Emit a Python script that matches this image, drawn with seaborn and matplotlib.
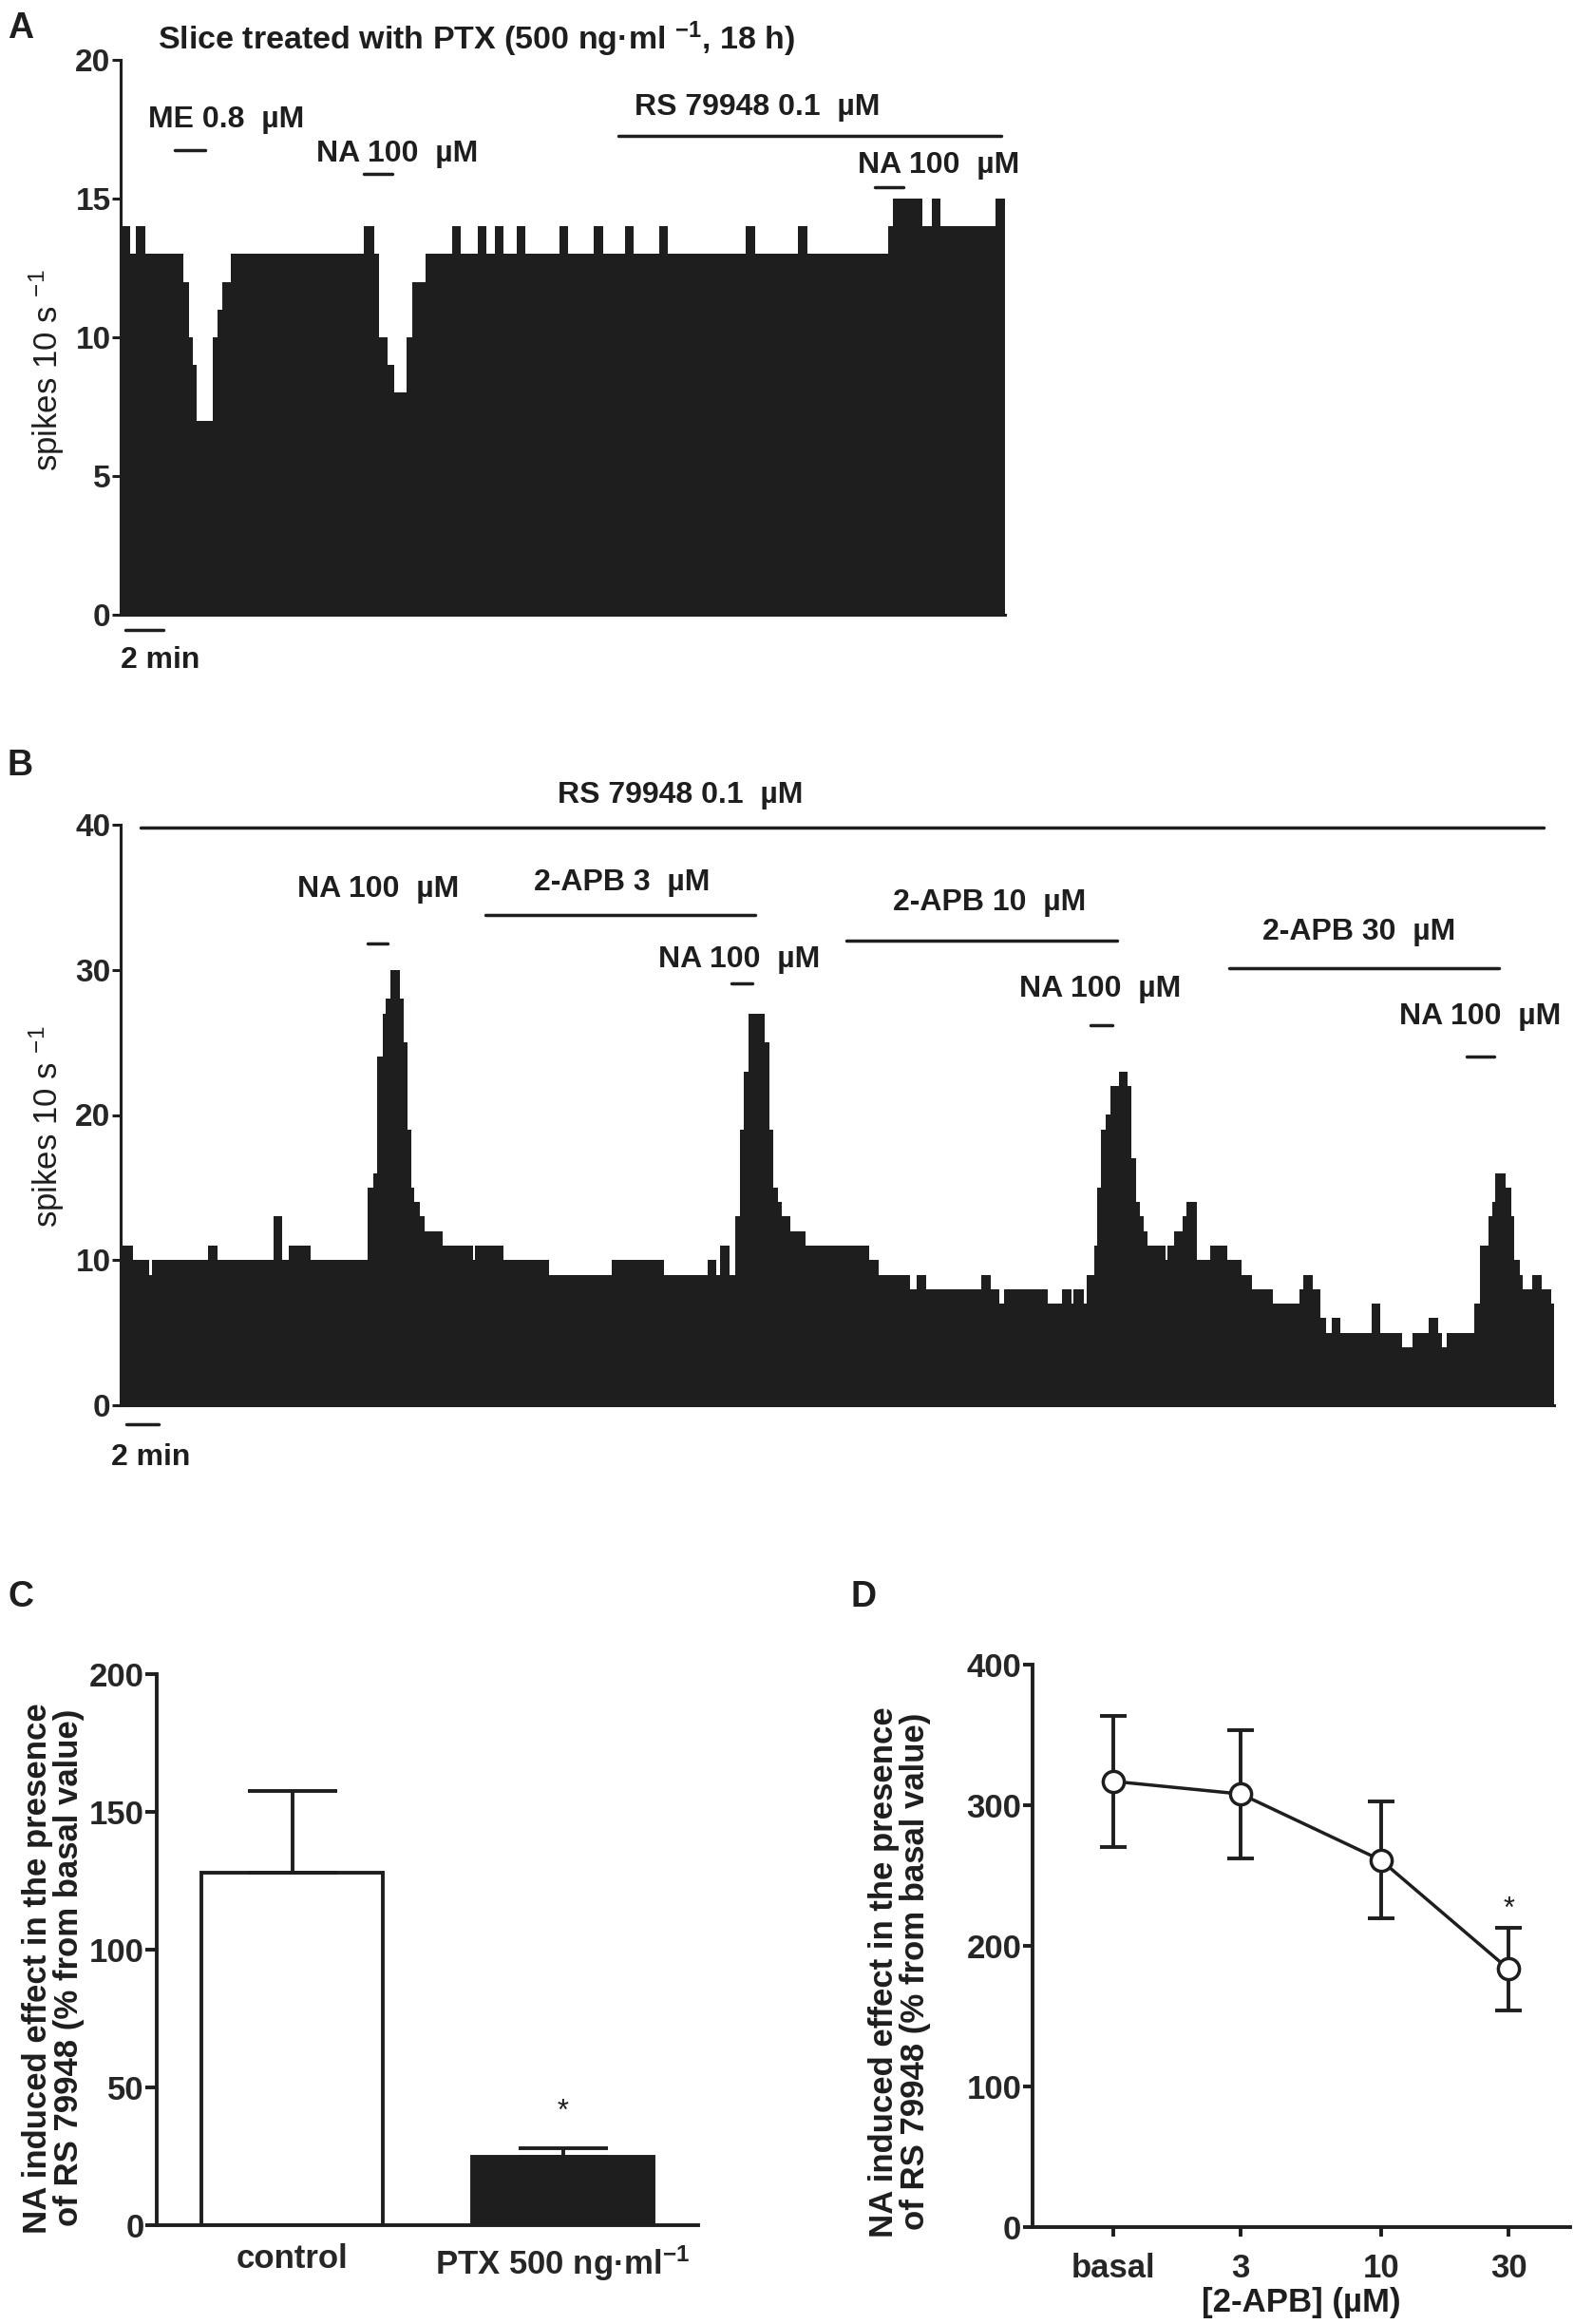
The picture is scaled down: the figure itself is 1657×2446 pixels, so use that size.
import numpy as np
import matplotlib
matplotlib.use("Agg")
import matplotlib.pyplot as plt
import seaborn as sns

# ======== DATA ========
# panel A: firing rate (spikes / 10 s), run-length steps (min)
a_start = [0.00, 0.53, 0.82, 1.32, 3.35, 3.63, 3.87, 4.08, 4.90, 5.17, 5.45, 5.90,
           13.00, 13.55, 13.82, 14.27, 14.63, 15.27, 15.58, 16.28, 17.73, 18.18,
           19.10, 19.55, 20.00, 20.47, 21.15, 21.60, 23.47, 23.92, 25.28, 25.78,
           26.93, 27.42, 28.78, 29.23, 33.42, 33.88, 36.20, 36.67, 41.03, 41.28,
           42.85, 43.33, 43.80, 46.73]
a_rate = [14, 13, 14, 13, 12, 10, 9, 7, 10, 11, 12, 13,
          14, 13, 10, 9, 8, 10, 12, 13, 14, 13,
          14, 13, 14, 13, 14, 13, 14, 13, 14, 13,
          14, 13, 14, 13, 14, 13, 14, 13, 14, 15,
          14, 15, 14, 15]
a_end = 47.25

a_drug = ["ME 0.8  µM", "NA 100  µM", "RS 79948 0.1  µM", "NA 100  µM"]
a_drug_on = [2.9, 12.97, 26.6, 40.3]
a_drug_off = [4.53, 14.5, 47.07, 41.8]

# panel B
b_start = [0.00, 0.77, 1.77, 1.94, 5.35, 5.98, 9.38, 9.94, 10.35, 11.67,
           15.20, 15.52, 15.77, 16.08, 16.29, 16.60, 17.13, 17.40, 17.60, 17.85,
           18.06, 18.38, 18.65, 19.80, 21.67, 21.77, 23.54, 26.30, 30.15, 33.38,
           36.09, 36.61, 36.82, 37.40, 37.76, 38.03, 38.28, 38.55, 39.57, 39.84,
           40.11, 40.36, 40.63, 41.15, 42.07, 45.98, 46.57, 48.48, 48.90, 49.48,
           52.86, 53.44, 54.00, 54.27, 56.94, 57.85, 58.42, 58.56, 59.15, 59.32,
           59.79, 60.00, 60.25, 60.52, 60.80, 61.31, 61.85, 62.11, 62.36, 62.59,
           62.85, 63.10, 64.17, 64.32, 64.74, 65.23, 65.48, 66.12, 66.96, 68.01,
           68.86, 69.53, 70.76, 72.44, 72.66, 73.25, 73.71, 74.03, 74.39, 74.93,
           76.83, 77.40, 78.73, 79.36, 80.36, 80.93, 81.20, 81.47, 83.16, 83.52,
           84.01, 84.26, 84.47, 85.06, 85.42, 85.63, 85.95, 86.16, 86.69, 87.32,
           87.89]
b_rate = [11, 10, 9, 10, 11, 10, 13, 10, 11, 10,
          15, 16, 24, 27, 28, 30, 28, 25, 19, 15,
          14, 13, 12, 11, 10, 11, 10, 9, 10, 9,
          10, 9, 11, 9, 13, 19, 23, 27, 25, 19,
          15, 14, 13, 12, 11, 10, 9, 8, 9, 8,
          9, 8, 7, 8, 7, 8, 7, 8, 7, 9,
          11, 15, 19, 20, 22, 23, 22, 17, 14, 13,
          12, 11, 10, 11, 12, 13, 14, 10, 11, 10,
          9, 8, 7, 8, 9, 8, 6, 5, 6, 5,
          7, 5, 4, 5, 6, 5, 4, 5, 7, 11,
          13, 14, 16, 15, 13, 10, 9, 8, 9, 8,
          7]
b_end = 88.06

b_drug = ["RS 79948 0.1  µM", "NA 100  µM", "2-APB 3  µM", "NA 100  µM",
          "2-APB 10  µM", "NA 100  µM", "2-APB 30  µM", "NA 100  µM"]
b_drug_on = [1.25, 15.2, 22.4, 37.55, 44.6, 59.6, 68.1, 82.7]
b_drug_off = [87.4, 16.4, 39.0, 38.8, 61.2, 60.9, 84.7, 84.4]

# panel C
c_groups = ["control", r"PTX 500 ng·ml$^{\mathbf{-1}}$"]
c_mean = [128, 24.7]
c_sem = [29.5, 3.3]

# panel D
d_labels = ["basal", "3", "10", "30"]
d_conc = [1, 3, 10, 30]          # basal drawn at 1 on the log axis
d_mean = [317, 308, 261, 183.5]
d_sem = [46.5, 45.5, 41.5, 29.3]

# ======== STYLE ========
sns.set_style("ticks")
plt.rcParams["font.family"] = ["Liberation Sans", "DejaVu Sans"]
plt.rcParams["mathtext.fontset"] = "custom"
plt.rcParams["mathtext.rm"] = "Liberation Sans"
plt.rcParams["mathtext.bf"] = "Liberation Sans:bold"
plt.rcParams["mathtext.it"] = "Liberation Sans:italic"

INK = "#1e1e1e"
W, H = 1657, 2446
fig = plt.figure(figsize=(W / 100, H / 100), dpi=100)


def box(left, top, right, bottom):
    return [left / W, 1 - bottom / H, (right - left) / W, (bottom - top) / H]


def style(ax, lw=2.2, tick=6.5, size=24):
    sns.despine(ax=ax)
    for s in ["left", "bottom"]:
        ax.spines[s].set_linewidth(lw)
        ax.spines[s].set_color(INK)
    ax.tick_params(width=lw, length=tick, color=INK, labelsize=size, pad=1)
    for lab in ax.get_yticklabels() + ax.get_xticklabels():
        lab.set_fontweight("bold")


def trace(ax, starts, rates, end):
    sns.histplot(x=starts, weights=rates, bins=starts + [end], element="step",
                 fill=True, color=INK, alpha=1, linewidth=0, ax=ax)


BOLD = dict(fontsize=23, fontweight="bold", color=INK, clip_on=False)
YLAB = "NA induced effect in the presence\nof RS 79948 (% from basal value)"

# ======== PANEL A ========
axA = fig.add_axes(box(127, 63, 1058, 647))
trace(axA, a_start, a_rate, a_end)
axA.set_xlim(0, a_end)
axA.set_ylim(0, 20)
axA.set_yticks([0, 5, 10, 15, 20])
axA.set_xticks([])
axA.set_ylabel(r"spikes 10 s $^{-1}$", fontsize=25, color=INK)
axA.yaxis.set_label_coords(-0.061, 0.44)
style(axA)
axA.text(2.0, 20.75, r"Slice treated with PTX (500 ng·ml $^{\mathbf{-1}}$, 18 h)",
         va="center", ha="left", **dict(BOLD, fontsize=24.5))
a_bar_y = [16.75, 15.9, 17.25, 15.4]
a_txt = [(1.45, 17.85, "left"), (10.45, 16.6, "left"), (34.0, 18.3, "center"), (39.4, 16.2, "left")]
for lab, on, off, by, (tx, ty, ha) in zip(a_drug, a_drug_on, a_drug_off, a_bar_y, a_txt):
    axA.plot([on, off], [by, by], color=INK, lw=2.5, clip_on=False, solid_capstyle="round")
    axA.text(tx, ty, lab, va="center", ha=ha, **BOLD)
axA.plot([0.27, 2.27], [-0.55, -0.55], color=INK, lw=2.5, clip_on=False)
axA.text(0.0, -1.65, "2 min", va="center", ha="left", **BOLD)

# ======== PANEL B ========
axB = fig.add_axes(box(127, 868, 1636, 1479))
trace(axB, b_start, b_rate, b_end)
axB.set_xlim(0, b_end)
axB.set_ylim(0, 40)
axB.set_yticks([0, 10, 20, 30, 40])
axB.set_xticks([])
axB.set_ylabel(r"spikes 10 s $^{-1}$", fontsize=25, color=INK)
axB.yaxis.set_label_coords(-0.038, 0.48)
style(axB)
b_bar_y = [39.8, 31.8, 33.8, 29.05, 32.0, 26.2, 30.1, 24.0]
b_txt_y = [42.0, 35.55, 36.0, 30.7, 34.6, 28.7, 32.6, 26.8]
b_txt_x = [34.4, 15.8, 30.8, 38.0, 53.4, 60.2, 76.1, 83.5]
for lab, on, off, by, tx, ty in zip(b_drug, b_drug_on, b_drug_off, b_bar_y, b_txt_x, b_txt_y):
    axB.plot([on, off], [by, by], color=INK, lw=2.5, clip_on=False, solid_capstyle="round")
    axB.text(tx, ty, lab, va="center", ha="center", **BOLD)
axB.plot([0.35, 2.35], [-1.3, -1.3], color=INK, lw=2.5, clip_on=False)
axB.text(-0.6, -3.6, "2 min", va="center", ha="left", **BOLD)

# ======== PANEL C ========
axC = fig.add_axes(box(165, 1762, 735, 2342))
sns.barplot(x=c_groups, y=c_mean, hue=c_groups, palette=["white", INK], legend=False,
            edgecolor=INK, linewidth=2.8, width=0.67, ax=axC)
axC.errorbar([0, 1], c_mean, yerr=[[0, 0], c_sem], fmt="none", ecolor=INK,
             elinewidth=2.8, capsize=34, capthick=2.8, zorder=1)
axC.text(1, c_mean[1] + c_sem[1] + 13, "*", ha="center", va="center", fontsize=22, color=INK)
axC.set_xlim(-0.5, 1.5)
axC.set_ylim(0, 200)
axC.set_yticks([0, 50, 100, 150, 200])
axC.set_ylabel(YLAB, fontsize=25, fontweight="bold", color=INK, linespacing=1.0)
axC.yaxis.set_label_coords(-0.133, 0.467)
style(axC, lw=2.8, tick=8.5, size=25)
axC.tick_params(axis="x", length=0, pad=14)

# ======== PANEL D ========
axD = fig.add_axes(box(1087, 1752, 1653, 2344))
axD.errorbar(d_conc, d_mean, yerr=d_sem, fmt="none", ecolor=INK, elinewidth=2.8,
             capsize=10, capthick=2.8, zorder=2)
sns.lineplot(x=d_conc, y=d_mean, color=INK, lw=2.5, marker="o", markersize=16,
             markerfacecolor="white", markeredgecolor=INK, markeredgewidth=2.5,
             ax=axD, zorder=3)
axD.text(30, 226, "*", ha="center", va="center", fontsize=22, color=INK)
axD.set_xscale("log")
axD.set_xlim(0.5, 51)
axD.set_ylim(0, 400)
axD.set_yticks([0, 100, 200, 300, 400])
axD.set_xticks(d_conc)
axD.set_xticklabels(d_labels)
axD.minorticks_off()
axD.set_xlabel("[2-APB] (µM)", fontsize=25, fontweight="bold", color=INK, labelpad=2)
axD.set_ylabel(YLAB, fontsize=25, fontweight="bold", color=INK, linespacing=1.0)
axD.yaxis.set_label_coords(-0.189, 0.454)
style(axD, lw=2.8, tick=7.5, size=25)
axD.tick_params(axis="x", pad=12)

# ======== PANEL LETTERS ========
for letter, (px, py) in zip("ABCD", [(8, 12), (8, 788), (8, 1663), (896, 1663)]):
    fig.text(px / W, 1 - py / H, letter, fontsize=27, fontweight="bold", color=INK,
             va="top", ha="left")

fig.savefig("out.png", dpi=100)
plt.close(fig)
